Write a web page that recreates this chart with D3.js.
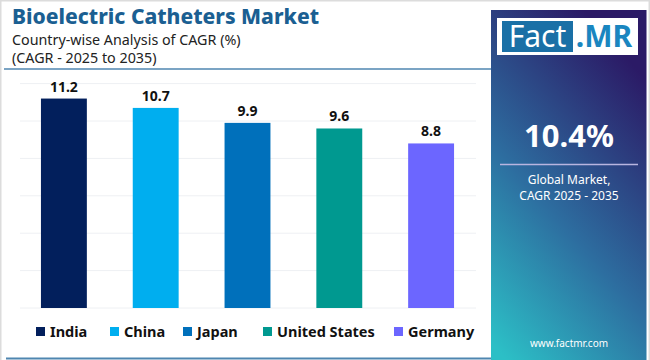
<!DOCTYPE html>
<html>
<head>
<meta charset="utf-8">
<script src="https://cdn.jsdelivr.net/npm/d3@7"></script>
<style>
html,body{margin:0;padding:0;background:#fff;}
svg{display:block;font-family:"Noto Sans",sans-serif;}
</style>
</head>
<body>
<svg id="chart" width="650" height="360"></svg>
<script>
const categories = ["India", "China", "Japan", "United States", "Germany"];
const values = [11.2, 10.7, 9.9, 9.6, 8.8];
const colors = ["#021f5c", "#00aeef", "#0070bb", "#009990", "#6c66ff"];
const yTicks = [0, 2, 4, 6, 8, 10, 12];
const titleText = "Bioelectric Catheters Market";
const subtitleLines = ["Country-wise Analysis of CAGR (%)", "(CAGR - 2025 to 2035)"];
const globalValue = "10.4%";
const globalLabel = ["Global Market,", "CAGR 2025 - 2035"];

const svg = d3.select("#chart");

// outer frame
svg.append("rect").attr("x", 0.75).attr("y", 0.75).attr("width", 648.5).attr("height", 362)
  .attr("fill", "#fff").attr("stroke", "#dcdcdc").attr("stroke-width", 1.5);

// title
svg.append("text").attr("x", 12).attr("y", 23.5).text(titleText)
  .attr("font-size", 21).attr("font-weight", 800).attr("fill", "#1b5f92");
svg.selectAll("text.sub").data(subtitleLines).join("text").attr("class", "sub")
  .attr("x", 12).attr("y", (d, i) => 44.5 + i * 18).text(d => d)
  .attr("font-size", 14.3).attr("fill", "#222");

svg.append("line").attr("x1", 4).attr("x2", 492).attr("y1", 69).attr("y2", 69)
  .attr("stroke", "#4f86b0").attr("stroke-width", 1.5);
svg.append("line").attr("x1", 6).attr("x2", 492).attr("y1", 358.5).attr("y2", 358.5)
  .attr("stroke", "#4f86b0").attr("stroke-width", 2);

// scales
const x = d3.scaleBand().domain(categories).range([18, 477]).paddingInner(0.5).paddingOuter(0.25);
const y = d3.scaleLinear().domain([0, 12]).range([308, 83.6]);

// grid
svg.append("g").selectAll("line").data(yTicks).join("line")
  .attr("x1", 20).attr("x2", 476)
  .attr("y1", d => y(d)).attr("y2", d => y(d))
  .attr("stroke", "#eef0f3").attr("stroke-width", 1);

// bars
svg.append("g").selectAll("rect").data(categories).join("rect")
  .attr("x", d => x(d)).attr("width", x.bandwidth())
  .attr("y", (d, i) => y(values[i])).attr("height", (d, i) => y(0) - y(values[i]))
  .attr("fill", (d, i) => colors[i]);

// value labels
svg.append("g").selectAll("text").data(categories).join("text")
  .attr("x", d => x(d) + x.bandwidth() / 2)
  .attr("y", (d, i) => y(values[i]) - 7)
  .attr("text-anchor", "middle").attr("font-size", 14).attr("font-weight", 700).attr("fill", "#111")
  .text((d, i) => values[i].toFixed(1));

// legend
const legendX = [36, 110, 183, 263, 394];
const lg = svg.append("g").selectAll("g").data(categories).join("g")
  .attr("transform", (d, i) => `translate(${legendX[i]},327)`);
lg.append("rect").attr("width", 9).attr("height", 9).attr("fill", (d, i) => colors[i]);
lg.append("text").attr("x", 14).attr("y", 10).text(d => d)
  .attr("font-size", 14.5).attr("font-weight", 700).attr("fill", "#111");

// right panel
const defs = svg.append("defs");
const grad = defs.append("linearGradient").attr("id", "pg")
  .attr("x1", "0.1").attr("y1", "1").attr("x2", "0.6").attr("y2", "0");
grad.append("stop").attr("offset", "0").attr("stop-color", "#2cbfc6");
grad.append("stop").attr("offset", "0.45").attr("stop-color", "#2d6ea0");
grad.append("stop").attr("offset", "1").attr("stop-color", "#2b1a66");
svg.append("rect").attr("x", 491).attr("y", 10).attr("width", 155.5).attr("height", 350).attr("fill", "url(#pg)");

// logo
svg.append("rect").attr("x", 497).attr("y", 18).attr("width", 141).attr("height", 37).attr("fill", "#fff");
svg.append("rect").attr("x", 502).attr("y", 21).attr("width", 71).attr("height", 31).attr("fill", "#1a70a6");
svg.append("text").attr("x", 537.5).attr("y", 47).attr("text-anchor", "middle").text("Fact")
  .attr("font-size", 30).attr("fill", "#fff");
svg.append("text").attr("x", 604).attr("y", 47).attr("text-anchor", "middle").text(".MR")
  .attr("font-size", 30).attr("font-weight", 700).attr("fill", "#1a86c0");

svg.append("text").attr("x", 569).attr("y", 147).attr("text-anchor", "middle").text(globalValue)
  .attr("font-size", 31).attr("font-weight", 700).attr("fill", "#fff");
svg.append("line").attr("x1", 500).attr("x2", 638).attr("y1", 164.5).attr("y2", 164.5)
  .attr("stroke", "#b8b5e0").attr("stroke-width", 1.5);
svg.selectAll("text.gl").data(globalLabel).join("text").attr("class", "gl")
  .attr("x", 569).attr("y", (d, i) => 184 + i * 16).attr("text-anchor", "middle").text(d => d)
  .attr("font-size", 12).attr("fill", "#fff");
svg.append("text").attr("x", 569).attr("y", 347).attr("text-anchor", "middle").text("www.factmr.com")
  .attr("font-size", 10).attr("fill", "#fff");
</script>
</body>
</html>
